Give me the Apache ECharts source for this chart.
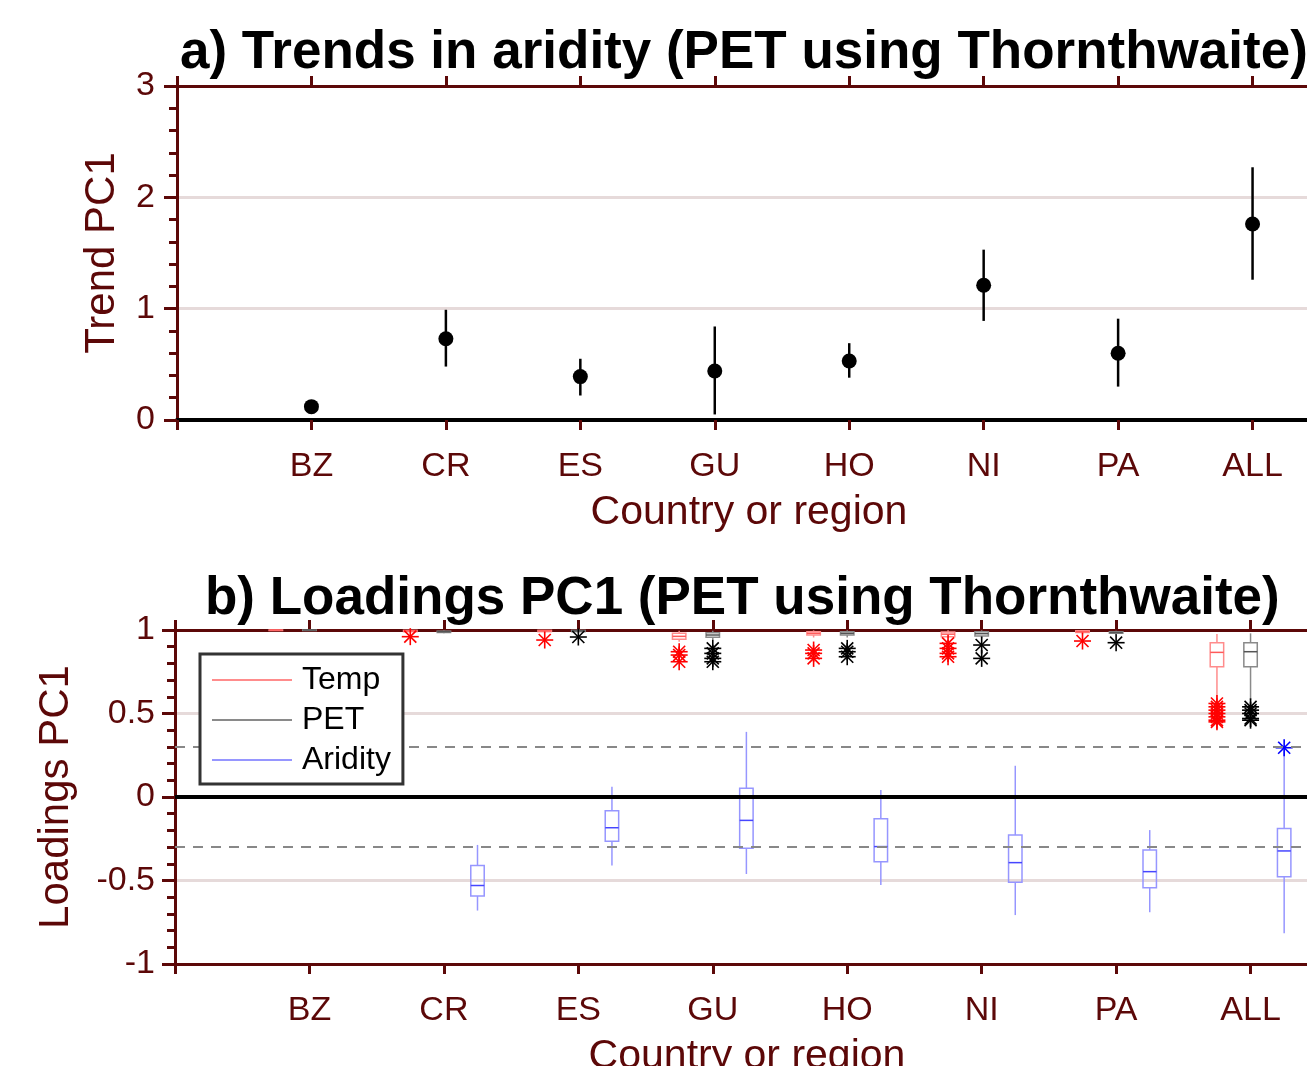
<!DOCTYPE html>
<html><head><meta charset="utf-8">
<script src="https://cdn.jsdelivr.net/npm/echarts@6.0.0/dist/echarts.min.js"></script>
<style>
html,body{margin:0;padding:0;overflow:hidden;background:#fff;width:1307px;height:1066px}
#c{position:absolute;left:0;top:0;width:1400px;height:1066px}
</style></head>
<body><div id="c"></div>
<script>
// ---------- data ----------
const categories = ['BZ', 'CR', 'ES', 'GU', 'HO', 'NI', 'PA', 'ALL'];

// panel a: trend in PC1 with error bars
const trend     = [0.12, 0.73, 0.39, 0.44, 0.53, 1.21, 0.60, 1.76];
const trendLow  = [0.11, 0.48, 0.22, 0.05, 0.38, 0.89, 0.30, 1.26];
const trendHigh = [0.13, 0.99, 0.55, 0.84, 0.69, 1.53, 0.91, 2.27];

// panel b: box statistics (low whisker, q1, median, q3, high whisker)
const tempLow  = [1.0, 0.985, 0.985, 0.93, 0.955, 0.95, 0.975, 0.59];
const tempQ1   = [1.0, 0.99, 0.99, 0.944, 0.97, 0.96, 0.985, 0.78];
const tempMed  = [1.0, 0.995, 0.995, 0.962, 0.98, 0.975, 0.99, 0.866];
const tempQ3   = [1.0, 0.998, 0.998, 0.98, 0.99, 0.988, 0.995, 0.924];
const tempHigh = [1.0, 1.0, 1.0, 0.995, 0.998, 0.998, 1.0, 0.976];
const tempOut  = [[1, 0.96], [2, 0.94], [3, 0.87], [3, 0.85], [3, 0.81],
                  [4, 0.88], [4, 0.86], [4, 0.83], [5, 0.92], [5, 0.89], [5, 0.86], [5, 0.84],
                  [6, 0.934], [7, 0.56], [7, 0.54], [7, 0.52], [7, 0.50], [7, 0.48], [7, 0.46], [7, 0.45]];

const petLow  = [1.0, 0.98, 0.985, 0.94, 0.955, 0.95, 0.97, 0.58];
const petQ1   = [1.0, 0.985, 0.99, 0.956, 0.97, 0.964, 0.98, 0.78];
const petMed  = [1.0, 0.99, 0.995, 0.97, 0.98, 0.978, 0.985, 0.87];
const petQ3   = [1.0, 0.993, 0.998, 0.984, 0.99, 0.99, 0.99, 0.924];
const petHigh = [1.0, 0.997, 1.0, 0.995, 0.998, 0.998, 0.995, 0.98];
const petOut  = [[2, 0.958], [3, 0.89], [3, 0.86], [3, 0.83], [3, 0.81],
                 [4, 0.89], [4, 0.87], [4, 0.84], [5, 0.91], [5, 0.83],
                 [6, 0.924], [7, 0.54], [7, 0.52], [7, 0.50], [7, 0.47], [7, 0.46]];

const ariLow  = [0.005, -0.68, -0.41, -0.461, -0.527, -0.707, -0.69, -0.816];
const ariQ1   = [0.005, -0.593, -0.265, -0.307, -0.387, -0.51, -0.543, -0.477];
const ariMed  = [0.005, -0.53, -0.184, -0.14, -0.297, -0.393, -0.447, -0.323];
const ariQ3   = [0.005, -0.41, -0.082, 0.052, -0.13, -0.228, -0.317, -0.188];
const ariHigh = [0.005, -0.287, 0.062, 0.39, 0.042, 0.187, -0.198, 0.28];
const ariOut  = [[7, 0.295]];

const refLines = [0.3, -0.3];

// ---------- styling ----------
const DR = '#5c0808';
const FONT = '"Liberation Sans", Arial, sans-serif';

function xAxisBottom(grid, lineColor, lineWidth) {
  return {
    type: 'value', gridIndex: grid, min: 0, max: 9, interval: 1, position: 'bottom',
    axisLine: { show: true, onZero: false, lineStyle: { color: lineColor, width: lineWidth } },
    axisTick: { show: true, inside: false, length: 10, lineStyle: { color: DR, width: 3 } },
    axisLabel: { margin: 30, color: DR, fontSize: 34, fontFamily: FONT,
      formatter: v => categories[v - 1] || '' },
    splitLine: { show: false },
    name: 'Country or region', nameLocation: 'middle', nameGap: 72,
    nameTextStyle: { color: DR, fontSize: 41, fontFamily: FONT, padding: [0, 66, 0, 0] }
  };
}
function xAxisTop(grid) {
  return {
    type: 'value', gridIndex: grid, min: 0, max: 9, interval: 1, position: 'top',
    axisLine: { show: true, onZero: false, lineStyle: { color: DR, width: 3 } },
    axisTick: { show: true, inside: false, length: 10, lineStyle: { color: DR, width: 3 } },
    axisLabel: { show: false }, splitLine: { show: false }
  };
}
function yAxisCfg(grid, min, max, interval, name, nameGap, margin) {
  return {
    type: 'value', gridIndex: grid, min: min, max: max, interval: interval,
    axisLine: { show: true, onZero: false, lineStyle: { color: DR, width: 3 } },
    axisTick: { show: true, inside: false, length: 13, lineStyle: { color: DR, width: 3 } },
    minorTick: { show: true, splitNumber: 5, length: 8, lineStyle: { color: DR, width: 3 } },
    axisLabel: { margin: margin, color: DR, fontSize: 34, fontFamily: FONT },
    splitLine: { show: true, lineStyle: { color: '#e6dada', width: 3 } },
    name: name, nameLocation: 'middle', nameGap: nameGap,
    nameTextStyle: { color: DR, fontSize: 42, fontFamily: FONT }
  };
}

function boxRender(color, medColor) {
  return function (params, api) {
    const x = api.value(0);
    const pLow = api.coord([x, api.value(1)]);
    const pQ1 = api.coord([x, api.value(2)]);
    const pMed = api.coord([x, api.value(3)]);
    const pQ3 = api.coord([x, api.value(4)]);
    const pHigh = api.coord([x, api.value(5)]);
    const hw = api.size([0.1, 0])[0] / 2;
    const cx = pLow[0];
    const st = { stroke: color, lineWidth: 1.5, fill: null };
    return {
      type: 'group', children: [
        { type: 'line', shape: { x1: cx, y1: pHigh[1], x2: cx, y2: pQ3[1] }, style: st },
        { type: 'line', shape: { x1: cx, y1: pQ1[1], x2: cx, y2: pLow[1] }, style: st },
        { type: 'rect', shape: { x: cx - hw, y: pQ3[1], width: 2 * hw, height: Math.max(pQ1[1] - pQ3[1], 0.5) }, style: st },
        { type: 'line', shape: { x1: cx - hw, y1: pMed[1], x2: cx + hw, y2: pMed[1] }, style: { stroke: medColor, lineWidth: 1.5 } }
      ]
    };
  };
}
function starRender(color) {
  return function (params, api) {
    const p = api.coord([api.value(0), api.value(1)]);
    const r = 8.5, d = r * 0.7071;
    const st = { stroke: color, lineWidth: 1.6 };
    return {
      type: 'group', children: [
        { type: 'line', shape: { x1: p[0] - r, y1: p[1], x2: p[0] + r, y2: p[1] }, style: st },
        { type: 'line', shape: { x1: p[0], y1: p[1] - r, x2: p[0], y2: p[1] + r }, style: st },
        { type: 'line', shape: { x1: p[0] - d, y1: p[1] - d, x2: p[0] + d, y2: p[1] + d }, style: st },
        { type: 'line', shape: { x1: p[0] - d, y1: p[1] + d, x2: p[0] + d, y2: p[1] - d }, style: st }
      ]
    };
  };
}
function boxData(offset, lo, q1, med, q3, hi) {
  return categories.map((c, i) => [i + 1 + offset, lo[i], q1[i], med[i], q3[i], hi[i]]);
}
function outData(offset, list) {
  return list.map(o => [o[0] + 1 + offset, o[1]]);
}

const TEMP_C = '#ff8c8c', TEMP_M = '#ff5a5a', TEMP_O = '#ff0000';
const PET_C = '#8a8a8a', PET_M = '#555555', PET_O = '#000000';
const ARI_C = '#9696ff', ARI_M = '#4646ff', ARI_O = '#0000ff';

const option = {
  animation: false,
  backgroundColor: '#fff',
  title: [
    { text: 'a) Trends in aridity (PET using Thornthwaite)', left: 180, top: 27, padding: 0,
      textStyle: { fontSize: 53, fontWeight: 'bold', fontFamily: FONT, color: '#000' } },
    { text: 'b) Loadings PC1 (PET using Thornthwaite)', left: 205, top: 573, padding: 0,
      textStyle: { fontSize: 53, fontWeight: 'bold', fontFamily: FONT, color: '#000' } }
  ],
  grid: [
    { left: 177, top: 86, width: 1210, height: 334, outerBoundsMode: 'none' },
    { left: 175, top: 630, width: 1210, height: 334, outerBoundsMode: 'none' }
  ],
  xAxis: [
    xAxisBottom(0, '#000', 4),
    xAxisTop(0),
    xAxisBottom(1, DR, 3),
    xAxisTop(1)
  ],
  yAxis: [
    yAxisCfg(0, 0, 3, 1, 'Trend PC1', 54, 22),
    yAxisCfg(1, -1, 1, 0.5, 'Loadings PC1', 98, 20)
  ],
  legend: {
    orient: 'vertical', left: 200, top: 654, padding: [6, 12, 4, 12], itemGap: 0,
    itemWidth: 80, itemHeight: 2, borderColor: '#333', borderWidth: 3, backgroundColor: '#fff',
    selectedMode: false, z: 20,
    textStyle: { fontSize: 32, fontFamily: FONT, color: '#000', lineHeight: 40, padding: [0, 0, 0, 5] },
    data: [
      { name: 'Temp', icon: 'rect', itemStyle: { color: TEMP_C } },
      { name: 'PET', icon: 'rect', itemStyle: { color: PET_C } },
      { name: 'Aridity', icon: 'rect', itemStyle: { color: ARI_C } }
    ]
  },
  series: [
    // panel a
    { type: 'custom', name: 'errbar', xAxisIndex: 0, yAxisIndex: 0, z: 4,
      data: categories.map((c, i) => [i + 1, trendLow[i], trendHigh[i]]),
      renderItem: function (params, api) {
        const a = api.coord([api.value(0), api.value(1)]);
        const b = api.coord([api.value(0), api.value(2)]);
        return { type: 'line', shape: { x1: a[0], y1: a[1], x2: b[0], y2: b[1] }, style: { stroke: '#000', lineWidth: 2.5 } };
      } },
    { type: 'scatter', name: 'trend', xAxisIndex: 0, yAxisIndex: 0, z: 5, symbol: 'circle', symbolSize: 15,
      itemStyle: { color: '#000', opacity: 1 },
      data: categories.map((c, i) => [i + 1, trend[i]]) },
    // panel b reference lines
    { type: 'line', name: 'ref', xAxisIndex: 2, yAxisIndex: 1, z: 1, data: [], silent: true,
      markLine: { silent: true, symbol: 'none', label: { show: false },
        data: [{ yAxis: 0, lineStyle: { color: '#000', width: 4, type: 'solid' } }]
          .concat(refLines.map(v => ({ yAxis: v, lineStyle: { color: '#888', width: 2, type: [10, 8] } }))) } },
    // boxes
    { type: 'custom', name: 'Temp', xAxisIndex: 2, yAxisIndex: 1, z: 3, itemStyle: { color: TEMP_C },
      data: boxData(-0.25, tempLow, tempQ1, tempMed, tempQ3, tempHigh), renderItem: boxRender(TEMP_C, TEMP_M) },
    { type: 'custom', name: 'PET', xAxisIndex: 2, yAxisIndex: 1, z: 3, itemStyle: { color: PET_C },
      data: boxData(0, petLow, petQ1, petMed, petQ3, petHigh), renderItem: boxRender(PET_C, PET_M) },
    { type: 'custom', name: 'Aridity', xAxisIndex: 2, yAxisIndex: 1, z: 3, itemStyle: { color: ARI_C },
      data: boxData(0.25, ariLow, ariQ1, ariMed, ariQ3, ariHigh), renderItem: boxRender(ARI_C, ARI_M) },
    // outliers
    { type: 'custom', name: 'Temp outliers', xAxisIndex: 2, yAxisIndex: 1, z: 4,
      data: outData(-0.25, tempOut), renderItem: starRender(TEMP_O) },
    { type: 'custom', name: 'PET outliers', xAxisIndex: 2, yAxisIndex: 1, z: 4,
      data: outData(0, petOut), renderItem: starRender(PET_O) },
    { type: 'custom', name: 'Aridity outliers', xAxisIndex: 2, yAxisIndex: 1, z: 4,
      data: outData(0.25, ariOut), renderItem: starRender(ARI_O) }
  ]
};

const chart = echarts.init(document.getElementById('c'), null, { renderer: 'canvas' });
chart.setOption(option);
</script>
</body></html>
